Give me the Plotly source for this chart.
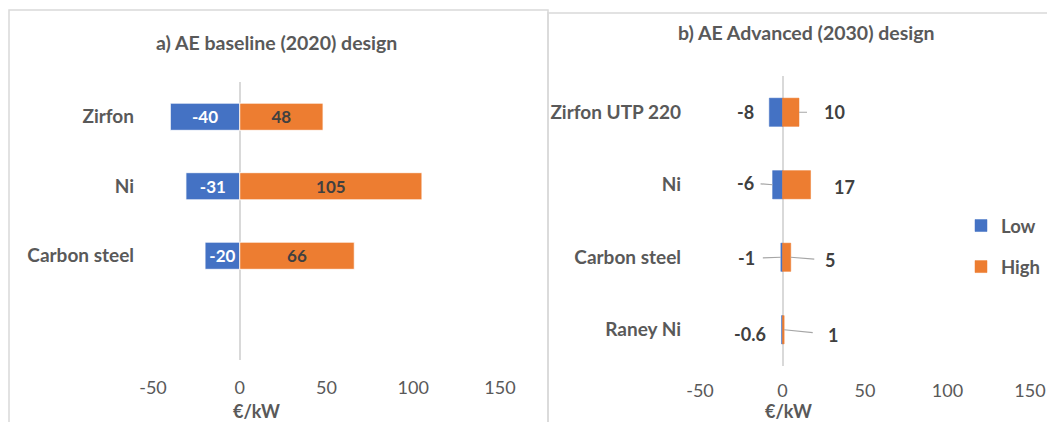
import plotly.graph_objects as go

# ---------------- data ----------------
cats_a = ["Zirfon", "Ni", "Carbon steel", " "]
low_a = [-40, -31, -20, None]
high_a = [48, 105, 66, None]

cats_b = ["Zirfon UTP 220", "Ni", "Carbon steel", "Raney Ni"]
low_b = [-8, -6, -1, -0.6]
high_b = [10, 17, 5, 1]

x_ticks = [-50, 0, 50, 100, 150]
x_tick_labels = ["-50", "0", "50", "100", "150"]
title_a = "a) AE baseline (2020) design"
title_b = "b) AE Advanced (2030) design"
unit = "€/kW"

# ---------------- style ----------------
OFF = 8                      # default page body margin
W, H = 1055 - OFF, 422 - OFF
BLUE = "#4472C4"
ORANGE = "#ED7D31"
GRAY = "#595959"
DARK = "#404040"
LINE = "#D9D9D9"
FONT = "Lato"


def px(x):
    return (x - OFF) / W


def py(y):
    return 1 - (y - OFF) / H


def fmt(v):
    return f"{v:g}"


fig = go.Figure()

# panel a bars (labels inside)
fig.add_trace(go.Bar(
    y=cats_a, x=low_a, orientation="h", name="Low", marker_color=BLUE,
    marker_line=dict(color="white", width=0.8),
    text=[fmt(v) if v is not None else "" for v in low_a],
    textposition="inside", insidetextanchor="middle", constraintext="none",
    textfont=dict(family=FONT, size=17, color="white", weight="bold"),
    xaxis="x", yaxis="y", showlegend=False, hoverinfo="skip"))
fig.add_trace(go.Bar(
    y=cats_a, x=high_a, orientation="h", name="High", marker_color=ORANGE,
    marker_line=dict(color="white", width=0.8),
    text=[fmt(v) if v is not None else "" for v in high_a],
    textposition="inside", insidetextanchor="middle", constraintext="none",
    textfont=dict(family=FONT, size=17, color=DARK, weight="bold"),
    xaxis="x", yaxis="y", showlegend=False, hoverinfo="skip"))

# panel b bars (labels as annotations)
fig.add_trace(go.Bar(
    y=cats_b, x=low_b, orientation="h", name="Low", marker_color=BLUE,
    marker_line=dict(color=BLUE, width=0.5),
    xaxis="x2", yaxis="y2", legendgroup="low", hoverinfo="skip"))
fig.add_trace(go.Bar(
    y=cats_b, x=high_b, orientation="h", name="High", marker_color=ORANGE,
    marker_line=dict(color=ORANGE, width=0.5),
    xaxis="x2", yaxis="y2", legendgroup="high", hoverinfo="skip"))

axis_common = dict(
    range=[-50, 150], tickvals=x_ticks, ticktext=x_tick_labels,
    showgrid=False, showline=False,
    zeroline=True, zerolinecolor=LINE, zerolinewidth=2, ticks="",
    tickfont=dict(family=FONT, size=18, color=GRAY),
    fixedrange=True, automargin=False)
yaxis_common = dict(
    showgrid=False, showline=False, zeroline=False, ticks="",
    range=[3.5, -0.5], ticklabelstandoff=18,
    tickfont=dict(family=FONT, size=19, color=GRAY, weight="bold"),
    fixedrange=True, automargin=False)

fig.update_layout(
    width=W, height=H,
    margin=dict(l=0, r=0, t=0, b=0, pad=0, autoexpand=False),
    paper_bgcolor="white", plot_bgcolor="white",
    barmode="relative", bargap=0.61,
    font=dict(family=FONT, color=GRAY),
    xaxis=dict(domain=[px(153), px(500)], anchor="y", ticklabelstandoff=15, **axis_common),
    yaxis=dict(domain=[py(360), py(82)], anchor="x", **yaxis_common),
    xaxis2=dict(domain=[px(700), px(1030)], anchor="y2", ticklabelstandoff=12, **axis_common),
    yaxis2=dict(domain=[py(366), py(76)], anchor="x2", **yaxis_common),
    legend=dict(x=px(961), y=py(207), xanchor="left", yanchor="top",
                traceorder="grouped", tracegroupgap=14,
                font=dict(family=FONT, size=18.5, color=GRAY, weight="bold"),
                bgcolor="rgba(0,0,0,0)"),
    showlegend=True,
)

# panel borders
fig.add_shape(type="rect", xref="paper", yref="paper",
              x0=px(9), x1=px(548), y0=-0.1, y1=py(10),
              line=dict(color=LINE, width=1.5))
fig.add_shape(type="rect", xref="paper", yref="paper",
              x0=px(548), x1=1.1, y0=-0.1, y1=py(13),
              line=dict(color=LINE, width=1.5))

# titles and axis titles
ann = []
for txt, cx, cy, fs in ((title_a, 276, 42, 19.5), (title_b, 806, 32, 19.5),
                        (unit, 256, 411, 18), (unit, 788, 411, 18)):
    ann.append(dict(text=txt, x=px(cx), y=py(cy), xref="paper", yref="paper",
                    xanchor="center", yanchor="middle", showarrow=False,
                    font=dict(family=FONT, size=fs, color=GRAY, weight="bold")))

# panel b data labels: (dx, dy, leader line, startstandoff) offsets in px
low_off = [(-24, 0, False, 0), (-27, -2, True, 5), (-34, 1, True, 6), (-32, 4, False, 0)]
high_off = [(35, 0, True, 15), (34, 2, False, 0), (39, 3, True, 9), (49, 5, True, 14)]

for vals, offs in ((low_b, low_off), (high_b, high_off)):
    for cat, v, (dx, dy, line, so) in zip(cats_b, vals, offs):
        a = dict(text=fmt(v), x=v, y=cat, xref="x2", yref="y2",
                 font=dict(family=FONT, size=18, color=DARK, weight="bold"))
        if line:
            a.update(showarrow=True, ax=dx, ay=dy, arrowhead=0, arrowwidth=1.2,
                     arrowcolor="#A6A6A6", startstandoff=so, standoff=0)
        else:
            a.update(showarrow=False, xshift=dx, yshift=-dy)
        ann.append(a)

fig.update_layout(annotations=ann)

fig.write_html("out.html")
